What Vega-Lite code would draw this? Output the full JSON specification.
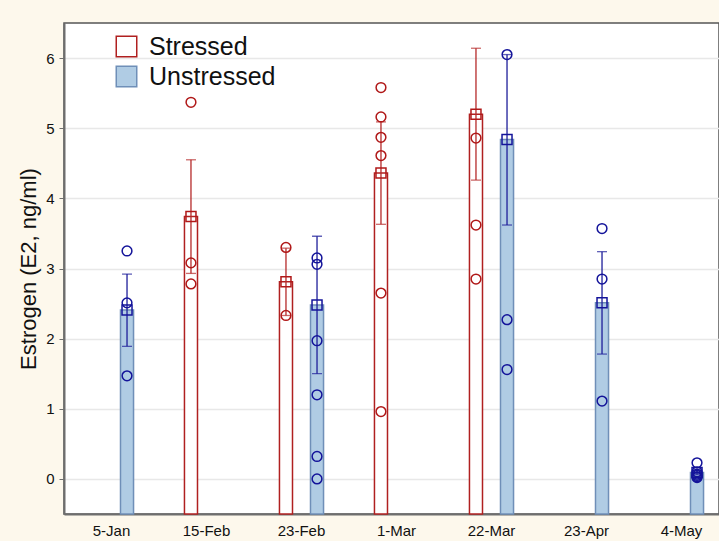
{
  "$schema": "https://vega.github.io/schema/vega-lite/v6.json",
  "width": 655,
  "height": 491,
  "autosize": {"type": "none"},
  "padding": {"left": 64, "top": 23, "right": 0, "bottom": 27},
  "background": "#fdf8ec",
  "view": {"fill": "white", "stroke": "#555555", "strokeWidth": 1.5},
  "config": {
    "font": "Liberation Sans",
    "axis": {"labelFont": "Liberation Sans", "titleFont": "Liberation Sans"},
    "legend": {"labelFont": "Liberation Sans"}
  },
  "datasets": {
    "bars": [
      {"date": "5-Jan", "group": "Unstressed", "mean": 2.41, "lo": 1.89, "hi": 2.92},
      {"date": "15-Feb", "group": "Stressed", "mean": 3.74, "lo": 2.93, "hi": 4.55},
      {"date": "23-Feb", "group": "Stressed", "mean": 2.81, "lo": 2.33, "hi": 3.29},
      {"date": "23-Feb", "group": "Unstressed", "mean": 2.48, "lo": 1.50, "hi": 3.46},
      {"date": "1-Mar", "group": "Stressed", "mean": 4.36, "lo": 3.63, "hi": 5.09},
      {"date": "22-Mar", "group": "Stressed", "mean": 5.20, "lo": 4.26, "hi": 6.14},
      {"date": "22-Mar", "group": "Unstressed", "mean": 4.84, "lo": 3.62, "hi": 6.05},
      {"date": "23-Apr", "group": "Unstressed", "mean": 2.51, "lo": 1.78, "hi": 3.24},
      {"date": "4-May", "group": "Unstressed", "mean": 0.09, "lo": 0.06, "hi": 0.12}
    ],
    "points": [
      {"date": "5-Jan", "group": "Unstressed", "value": 3.25},
      {"date": "5-Jan", "group": "Unstressed", "value": 2.51},
      {"date": "5-Jan", "group": "Unstressed", "value": 1.47},
      {"date": "15-Feb", "group": "Stressed", "value": 5.37},
      {"date": "15-Feb", "group": "Stressed", "value": 3.08},
      {"date": "15-Feb", "group": "Stressed", "value": 2.78},
      {"date": "23-Feb", "group": "Stressed", "value": 3.30},
      {"date": "23-Feb", "group": "Stressed", "value": 2.33},
      {"date": "23-Feb", "group": "Unstressed", "value": 3.15},
      {"date": "23-Feb", "group": "Unstressed", "value": 3.06},
      {"date": "23-Feb", "group": "Unstressed", "value": 1.97},
      {"date": "23-Feb", "group": "Unstressed", "value": 1.20},
      {"date": "23-Feb", "group": "Unstressed", "value": 0.32},
      {"date": "23-Feb", "group": "Unstressed", "value": 0.0},
      {"date": "1-Mar", "group": "Stressed", "value": 5.58},
      {"date": "1-Mar", "group": "Stressed", "value": 5.16},
      {"date": "1-Mar", "group": "Stressed", "value": 4.87},
      {"date": "1-Mar", "group": "Stressed", "value": 4.61},
      {"date": "1-Mar", "group": "Stressed", "value": 2.65},
      {"date": "1-Mar", "group": "Stressed", "value": 0.96},
      {"date": "22-Mar", "group": "Stressed", "value": 4.86},
      {"date": "22-Mar", "group": "Stressed", "value": 3.62},
      {"date": "22-Mar", "group": "Stressed", "value": 2.85},
      {"date": "22-Mar", "group": "Unstressed", "value": 6.05},
      {"date": "22-Mar", "group": "Unstressed", "value": 2.27},
      {"date": "22-Mar", "group": "Unstressed", "value": 1.56},
      {"date": "23-Apr", "group": "Unstressed", "value": 3.57},
      {"date": "23-Apr", "group": "Unstressed", "value": 2.85},
      {"date": "23-Apr", "group": "Unstressed", "value": 1.11},
      {"date": "4-May", "group": "Unstressed", "value": 0.23},
      {"date": "4-May", "group": "Unstressed", "value": 0.10},
      {"date": "4-May", "group": "Unstressed", "value": 0.07},
      {"date": "4-May", "group": "Unstressed", "value": 0.05},
      {"date": "4-May", "group": "Unstressed", "value": 0.03},
      {"date": "4-May", "group": "Unstressed", "value": 0.02}
    ]
  },
  "encoding": {
    "x": {
      "field": "date", "type": "nominal", "sort": null,
      "scale": {"type": "band", "domain": ["5-Jan", "15-Feb", "23-Feb", "1-Mar", "22-Mar", "23-Apr", "4-May"], "range": [0, 665], "paddingInner": 0, "paddingOuter": 0},
      "axis": {"title": null, "labelAngle": 0, "labelFontSize": 15, "labelColor": "#111111", "labelPadding": 9, "ticks": false, "domainColor": "#6e6e6e", "domainWidth": 2, "grid": false}
    },
    "xOffset": {
      "field": "group", "type": "nominal",
      "scale": {"domain": ["Stressed", "Unstressed"], "paddingInner": 0.58, "paddingOuter": 0.82}
    }
  },
  "layer": [
    {
      "data": {"name": "bars"},
      "mark": {"type": "bar", "strokeWidth": 1.5},
      "encoding": {
        "y": {
          "field": "mean", "type": "quantitative",
          "scale": {"domain": [-0.5, 6.5], "nice": false, "zero": false},
          "axis": {
            "title": "Estrogen (E2, ng/ml)", "titleFontSize": 22, "titleFontWeight": "normal", "titleColor": "#111111", "titlePadding": 5,
            "values": [0, 1, 2, 3, 4, 5, 6], "format": "d", "labelFontSize": 15, "labelColor": "#111111", "labelPadding": 5,
            "tickSize": 5, "tickColor": "#6e6e6e", "domainColor": "#6e6e6e", "domainWidth": 2,
            "gridColor": "#e8e8e8", "gridWidth": 1.5
          }
        },
        "y2": {"datum": -0.5},
        "fill": {
          "field": "group", "type": "nominal",
          "scale": {"domain": ["Stressed", "Unstressed"], "range": ["#ffffff", "#b0cce4"]},
          "legend": {
            "title": null, "orient": "none", "legendX": 50, "legendY": 11,
            "labelFontSize": 25, "labelColor": "#111111", "symbolType": "square", "symbolSize": 420,
            "symbolStrokeWidth": 1.5, "labelOffset": 10, "rowPadding": 3
          }
        },
        "stroke": {
          "field": "group", "type": "nominal",
          "scale": {"domain": ["Stressed", "Unstressed"], "range": ["#b02020", "#6f8fb8"]},
          "legend": {
            "title": null, "orient": "none", "legendX": 50, "legendY": 11,
            "labelFontSize": 25, "labelColor": "#111111", "symbolType": "square", "symbolSize": 420,
            "symbolStrokeWidth": 1.5, "labelOffset": 10, "rowPadding": 3
          }
        }
      }
    },
    {
      "data": {"name": "bars"},
      "mark": {"type": "rule", "strokeWidth": 1.3},
      "encoding": {
        "y": {"field": "lo", "type": "quantitative"},
        "y2": {"field": "hi"},
        "color": {"field": "group", "type": "nominal", "scale": {"domain": ["Stressed", "Unstressed"], "range": ["#b52a2a", "#1e1e9a"]}, "legend": null}
      }
    },
    {
      "data": {"name": "bars"},
      "mark": {"type": "tick", "size": 10, "thickness": 1.3, "orient": "horizontal"},
      "encoding": {
        "y": {"field": "lo", "type": "quantitative"},
        "color": {"field": "group", "type": "nominal", "scale": {"domain": ["Stressed", "Unstressed"], "range": ["#b52a2a", "#1e1e9a"]}, "legend": null}
      }
    },
    {
      "data": {"name": "bars"},
      "mark": {"type": "tick", "size": 10, "thickness": 1.3, "orient": "horizontal"},
      "encoding": {
        "y": {"field": "hi", "type": "quantitative"},
        "color": {"field": "group", "type": "nominal", "scale": {"domain": ["Stressed", "Unstressed"], "range": ["#b52a2a", "#1e1e9a"]}, "legend": null}
      }
    },
    {
      "data": {"name": "bars"},
      "mark": {"type": "point", "shape": "square", "size": 100, "filled": false, "strokeWidth": 1.5, "opacity": 1},
      "encoding": {
        "y": {"field": "mean", "type": "quantitative"},
        "color": {"field": "group", "type": "nominal", "scale": {"domain": ["Stressed", "Unstressed"], "range": ["#b01818", "#14149a"]}, "legend": null}
      }
    },
    {
      "data": {"name": "points"},
      "mark": {"type": "point", "shape": "circle", "size": 95, "filled": false, "strokeWidth": 1.5, "opacity": 1},
      "encoding": {
        "y": {"field": "value", "type": "quantitative"},
        "color": {"field": "group", "type": "nominal", "scale": {"domain": ["Stressed", "Unstressed"], "range": ["#b01818", "#14149a"]}, "legend": null}
      }
    }
  ],
  "resolve": {"scale": {"color": "independent"}}
}
